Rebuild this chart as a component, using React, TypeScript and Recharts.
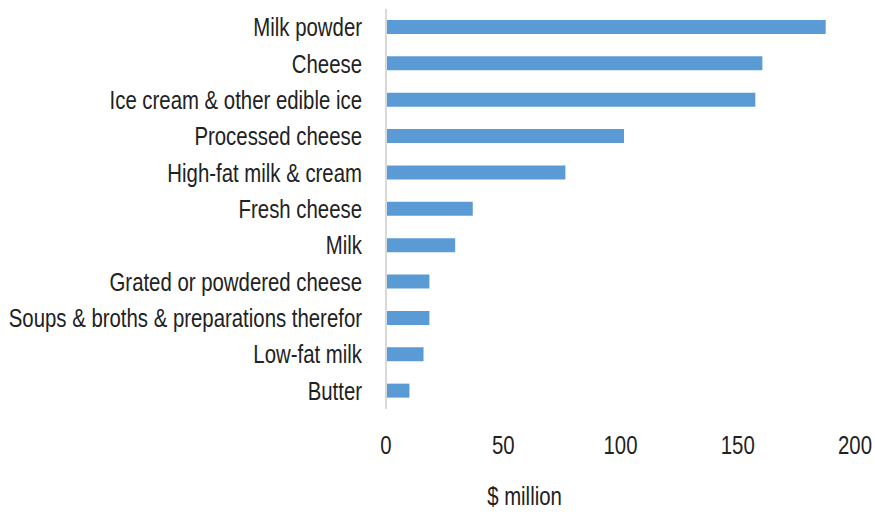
import { Bar, BarChart, Label, XAxis, YAxis } from "recharts";

const categories = [
  "Milk powder",
  "Cheese",
  "Ice cream & other edible ice",
  "Processed cheese",
  "High-fat milk & cream",
  "Fresh cheese",
  "Milk",
  "Grated or powdered cheese",
  "Soups & broths & preparations therefor",
  "Low-fat milk",
  "Butter",
];

const values = [187.5, 160.5, 157.5, 101.5, 76.5, 37, 29.5, 18.5, 18.5, 16, 10];

const xTicks = [0, 50, 100, 150, 200];

const data = categories.map((name, i) => ({ name, value: values[i] }));

// narrow look: Arial metrics squeezed horizontally
const font = '"Liberation Sans", Arial, sans-serif';
const squeeze = 0.815;
const textColor = "#222";

function NarrowText({ x, y, anchor, children }: any) {
  return (
    <text
      transform={`translate(${x},${y}) scale(${squeeze},1)`}
      textAnchor={anchor}
      fill={textColor}
      fontSize={25}
      fontFamily={font}
    >
      {children}
    </text>
  );
}

function YTick({ x, y, payload }: any) {
  return (
    <NarrowText x={x} y={y + 9} anchor="end">
      {payload.value}
    </NarrowText>
  );
}

function XTick({ x, y, payload }: any) {
  return (
    <NarrowText x={x} y={y + 45} anchor="middle">
      {payload.value}
    </NarrowText>
  );
}

function AxisTitle({ viewBox }: any) {
  const cx = viewBox.x + viewBox.width / 2 - 96;
  return (
    <NarrowText x={cx} y={viewBox.y + 96} anchor="middle">
      $ million
    </NarrowText>
  );
}

export default function App() {
  return (
    <div style={{ position: "absolute", left: 0, top: 0, background: "#fff" }}>
      <BarChart
        width={875}
        height={514}
        data={data}
        layout="vertical"
        margin={{ top: 9, right: 20, bottom: 0, left: 0 }}
      >
        <XAxis
          type="number"
          domain={[0, 200]}
          ticks={xTicks}
          axisLine={false}
          tickLine={false}
          tickSize={0}
          tickMargin={0}
          height={105}
          tick={<XTick />}
        >
          <Label content={<AxisTitle />} />
        </XAxis>
        <YAxis
          type="category"
          dataKey="name"
          width={386}
          axisLine={{ stroke: "#d9d9d9", strokeWidth: 2 }}
          tickLine={false}
          tickSize={0}
          tickMargin={24}
          interval={0}
          tick={<YTick />}
        />
        <Bar dataKey="value" fill="#5b9bd5" barSize={14} isAnimationActive={false} />
      </BarChart>
    </div>
  );
}
